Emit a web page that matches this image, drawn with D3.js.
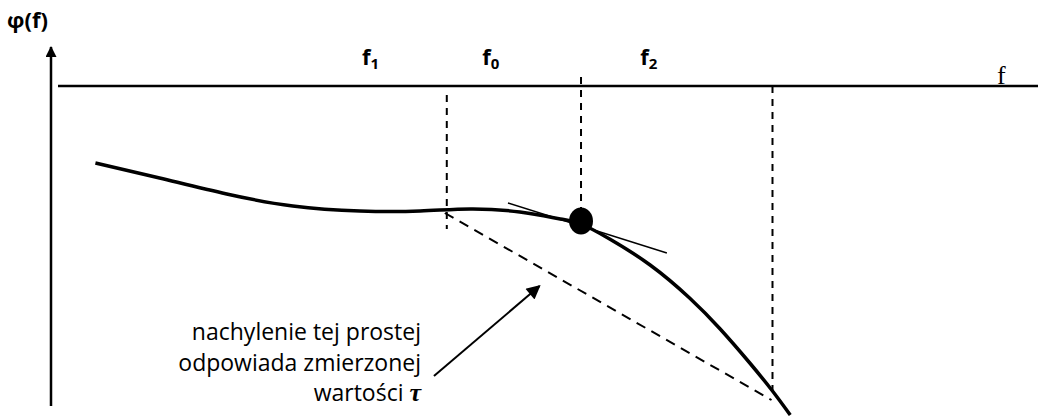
<!DOCTYPE html>
<html>
<head>
<meta charset="utf-8">
<script src="https://cdn.jsdelivr.net/npm/d3@7"></script>
<style>
  body { margin: 0; background: #fff; }
  svg { display: block; }
  text { font-family: "Open Sans", "Noto Sans", sans-serif; fill: #000; }
</style>
</head>
<body>
<svg id="chart"></svg>
<script>
// phase curve phi(f), in plot units (f: 0..100, phi: 0 at the f axis, negative downwards)
const curveF   = [4.5, 11.0, 17.8, 24.5, 31.3, 37.4, 42.5, 47.5, 51.6, 53.7, 56.6, 60.7, 64.7, 67.8, 70.8, 73.1, 74.9];
const curvePhi = [-7.7, -9.2, -10.8, -12.0, -12.5, -12.5, -12.3, -12.6, -13.3, -13.8, -15.3, -17.9, -21.2, -24.3, -27.7, -30.5, -32.9];

// vertical guides (dashed)
const guideF    = [40.1, 53.7, 73.1];
const guideTop  = [-0.9, 0.9, 0];
const guideBot  = [-14.3, -12.4, -31.2];

// frequency labels
const labelSub = ["1", "0", "2"];
const labelF   = [31.5, 43.7, 59.7];

// measured point, tangent and secant
const pointF = 53.7, pointPhi = -13.5;
const tangentF = [46.3, 62.4], tangentPhi = [-11.7, -16.7];
const secantF  = [39.9, 73.0], secantPhi  = [-12.7, -31.4];

// annotation
const noteLines = ["nachylenie tej prostej", "odpowiada zmierzonej", "wartości "];
const arrowF = [38.8, 49.5], arrowPhi = [-29.0, -20.0];

const width = 1038, height = 416;
const svg = d3.select('#chart').attr('width', width).attr('height', height);

const x = d3.scaleLinear().domain([0, 100]).range([51, 1038]);
const y = d3.scaleLinear().domain([0, -33]).range([86, 416]);

const defs = svg.append('defs');
defs.append('marker').attr('id', 'head').attr('viewBox', '0 0 10 10')
  .attr('refX', 9).attr('refY', 5).attr('markerWidth', 17).attr('markerHeight', 14)
  .attr('markerUnits', 'userSpaceOnUse').attr('orient', 'auto')
  .append('path').attr('d', 'M0,0 L10,5 L0,10 Z').attr('fill', '#000');
defs.append('marker').attr('id', 'axhead').attr('viewBox', '0 0 10 10')
  .attr('refX', 9).attr('refY', 5).attr('markerWidth', 12).attr('markerHeight', 11)
  .attr('markerUnits', 'userSpaceOnUse').attr('orient', 'auto')
  .append('path').attr('d', 'M0,0 L10,5 L0,10 Z').attr('fill', '#000');

// axes
svg.append('line').attr('x1', x(0)).attr('x2', x(0)).attr('y1', 406).attr('y2', 47)
  .attr('stroke', '#000').attr('stroke-width', 2.5).attr('marker-end', 'url(#axhead)');
svg.append('line').attr('x1', 58).attr('x2', width).attr('y1', y(0)).attr('y2', y(0))
  .attr('stroke', '#000').attr('stroke-width', 2.5);

svg.append('text').attr('x', 7).attr('y', 28).text('φ(f)')
  .style('font-size', '22px').style('font-weight', 'bold');
svg.append('text').attr('x', 997).attr('y', y(0) - 2).text('f')
  .style('font-family', '"Liberation Serif", serif').style('font-size', '26px');

labelF.forEach((f, i) => {
  const t = svg.append('text').attr('x', x(f)).attr('y', 65)
    .style('font-size', '22px').style('font-weight', 'bold');
  t.append('tspan').text('f');
  t.append('tspan').attr('dy', 4).style('font-size', '15px').text(labelSub[i]);
});

// guides
guideF.forEach((f, i) => {
  svg.append('line').attr('x1', x(f)).attr('x2', x(f))
    .attr('y1', y(guideTop[i])).attr('y2', y(guideBot[i]))
    .attr('stroke', '#000').attr('stroke-width', 2).attr('stroke-dasharray', '7,6');
});

// secant
svg.append('line').attr('x1', x(secantF[0])).attr('y1', y(secantPhi[0]))
  .attr('x2', x(secantF[1])).attr('y2', y(secantPhi[1]))
  .attr('stroke', '#000').attr('stroke-width', 2).attr('stroke-dasharray', '10,7');

// curve
const line = d3.line().x(d => x(d[0])).y(d => y(d[1])).curve(d3.curveNatural);
svg.append('path').datum(curveF.map((f, i) => [f, curvePhi[i]]))
  .attr('d', line).attr('fill', 'none').attr('stroke', '#000').attr('stroke-width', 3.5);

// tangent
svg.append('line').attr('x1', x(tangentF[0])).attr('y1', y(tangentPhi[0]))
  .attr('x2', x(tangentF[1])).attr('y2', y(tangentPhi[1]))
  .attr('stroke', '#000').attr('stroke-width', 1.5);

// point
svg.append('ellipse').attr('cx', x(pointF)).attr('cy', y(pointPhi)).attr('rx', 12).attr('ry', 13.5)
  .attr('fill', '#000');

// annotation arrow
svg.append('line').attr('x1', x(arrowF[0])).attr('y1', y(arrowPhi[0]))
  .attr('x2', x(arrowF[1])).attr('y2', y(arrowPhi[1]))
  .attr('stroke', '#000').attr('stroke-width', 2).attr('marker-end', 'url(#head)');

const noteY = [340, 371, 401];
noteLines.forEach((s, i) => {
  const t = svg.append('text').attr('x', 421).attr('y', noteY[i]).attr('text-anchor', 'end')
    .style('font-size', '23px');
  t.append('tspan').text(s);
  if (i === 2) {
    t.append('tspan').text('τ').style('font-family', '"Liberation Serif", serif')
      .style('font-style', 'italic').style('font-weight', 'bold').style('font-size', '26px');
  }
});
</script>
</body>
</html>
